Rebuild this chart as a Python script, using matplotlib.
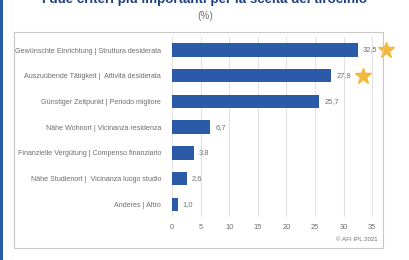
import matplotlib.pyplot as plt
from matplotlib.patches import Rectangle

categories = [
    "Gewünschte Einrichtung | Struttura desiderata",
    "Auszuübende Tätigkeit |  Attività desiderata",
    "Günstiger Zeitpunkt | Periodo migliore",
    "Nähe Wohnort | Vicinanza residenza",
    "Finanzielle Vergütung | Compenso finanziario",
    "Nähe Studienort |  Vicinanza luogo studio",
    "Anderes | Altro",
]
values = [32.5, 27.8, 25.7, 6.7, 3.8, 2.6, 1.0]
starred = [0, 1]
xticks = [0, 5, 10, 15, 20, 25, 30, 35]

bar_col = "#2b5aa8"
grey = "#6e6e6e"
star_col = "#f0b83c"

plt.rcParams['font.family'] = ['Liberation Sans', 'DejaVu Sans']

fig = plt.figure(figsize=(4.1, 2.6), dpi=100)

# frame box and left slide stripe
fig.patches.append(Rectangle((0.034, 0.046), 0.9, 0.83, transform=fig.transFigure,
                             fill=False, edgecolor="#c8c8c8", linewidth=0.8))
fig.patches.append(Rectangle((0.0, 0.0), 0.007, 1.0, transform=fig.transFigure,
                             facecolor="#2b5aa8", edgecolor="none"))

ax = fig.add_axes([0.4195, 0.165, 0.4927, 0.692])
y = list(range(len(values)))
ax.barh(y, values, height=0.52, color=bar_col, zorder=3)
for yi, v in zip(y, values):
    ax.text(v + 0.9, yi, f"{v:.1f}".replace(".", ","), va="center", ha="left",
            fontsize=5.4, color=grey)

# stars next to the two top criteria
for i in starred:
    ax.plot(values[i] + (4.9 if i == 0 else 5.5), i, marker="*", markersize=12,
            color=star_col, clip_on=False, zorder=4)

ax.set_ylim(len(values) - 0.5, -0.5)
ax.set_xlim(0, 35.3)
ax.set_yticks(y)
ax.set_yticklabels(categories, fontsize=5.15, color=grey)
ax.set_xticks(xticks)
ax.set_xticklabels([str(t) for t in xticks], fontsize=5.4, color=grey)
ax.tick_params(length=0)
ax.tick_params(axis="x", pad=5)
ax.tick_params(axis="y", pad=8)
ax.grid(axis="x", color="#e2e2e2", linewidth=0.8, zorder=0)
for s in ax.spines.values():
    s.set_visible(False)

fig.text(0.5, 1.0, "I due criteri più importanti per la scelta del tirocinio",
         ha="center", va="center", fontsize=9.6, fontweight="bold", color="#1f3f7a")
fig.text(0.5, 0.94, "(%)", ha="center", va="center", fontsize=7.2, color=grey)
fig.text(0.922, 0.077, "© AFI IPL 2021", ha="right", va="center", fontsize=4.4,
         color=grey)

fig.savefig("out.png", dpi=100)
